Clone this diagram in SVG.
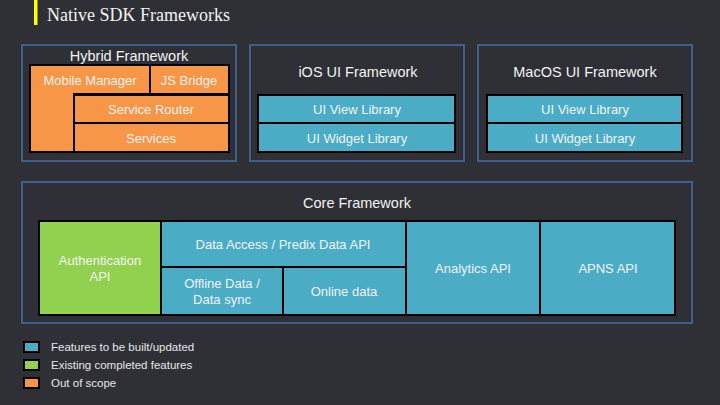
<svg xmlns="http://www.w3.org/2000/svg" width="720" height="405" viewBox="0 0 720 405">
<style>
.bg{fill:#2f3035}
.frame{fill:none;stroke:#3e5f8c;stroke-width:2}
.o{fill:#f79646;stroke:#000;stroke-width:2}
.b{fill:#4bacc6;stroke:#000;stroke-width:2}
.g{fill:#92d050;stroke:#000;stroke-width:2}
text{font-family:"Liberation Sans",Arial,sans-serif;fill:#f2f2f2;text-anchor:middle}
.t{font-size:14.5px}
.n{font-size:13px}
.l{font-size:11.5px;text-anchor:start;fill:#e6e6e6}
</style>
<rect class="bg" x="0" y="0" width="720" height="405"/>
<rect x="34" y="0" width="3.5" height="25" fill="#ffff00"/>
<text x="47" y="21" style="font-family:'Liberation Serif','Times New Roman',serif;font-size:18px;text-anchor:start;fill:#f2f2f2">Native SDK Frameworks</text>

<g id="hybrid-framework">
<rect class="frame" x="22" y="45" width="214" height="116"/>
<text class="t" x="129" y="61">Hybrid Framework</text>
</g>
<g id="mobile-manager">
<path class="o" d="M30,65 H150 V94 H74 V152 H30 Z"/>
<text class="n" x="90" y="85">Mobile Manager</text>
</g>
<g id="js-bridge">
<rect class="o" x="150" y="65" width="79" height="29"/>
<text class="n" x="189" y="85">JS Bridge</text>
</g>
<g id="service-router">
<rect class="o" x="74" y="95" width="155" height="28"/>
<text class="n" x="151" y="114">Service Router</text>
</g>
<g id="services">
<rect class="o" x="74" y="123" width="155" height="29"/>
<text class="n" x="151" y="143">Services</text>
</g>

<g id="ios-ui-framework">
<rect class="frame" x="250" y="45" width="214" height="116"/>
<text class="t" x="358" y="77">iOS UI Framework</text>
</g>
<g id="ios-ui-view-library">
<rect class="b" x="258" y="95" width="197" height="28"/>
<text class="n" x="357" y="114">UI View Library</text>
</g>
<g id="ios-ui-widget-library">
<rect class="b" x="258" y="123" width="197" height="29"/>
<text class="n" x="357" y="143">UI Widget Library</text>
</g>

<g id="macos-ui-framework">
<rect class="frame" x="478" y="45" width="214" height="116"/>
<text class="t" x="585" y="77">MacOS UI Framework</text>
</g>
<g id="macos-ui-view-library">
<rect class="b" x="487" y="95" width="195" height="28"/>
<text class="n" x="585" y="114">UI View Library</text>
</g>
<g id="macos-ui-widget-library">
<rect class="b" x="487" y="123" width="195" height="29"/>
<text class="n" x="585" y="143">UI Widget Library</text>
</g>

<g id="core-framework">
<rect class="frame" x="22" y="182" width="670" height="141"/>
<text class="t" x="357" y="208">Core Framework</text>
</g>
<g id="authentication-api">
<rect class="g" x="39" y="221" width="122" height="94"/>
<text class="n" x="100" y="265">Authentication</text>
<text class="n" x="100" y="281">API</text>
</g>
<g id="data-access">
<rect class="b" x="161" y="221" width="245" height="46"/>
<text class="n" x="283" y="249">Data Access / Predix Data API</text>
</g>
<g id="offline-data">
<rect class="b" x="161" y="267" width="122" height="48"/>
<text class="n" x="222" y="288">Offline Data /</text>
<text class="n" x="222" y="304">Data sync</text>
</g>
<g id="online-data">
<rect class="b" x="283" y="267" width="123" height="48"/>
<text class="n" x="344" y="296">Online data</text>
</g>
<g id="analytics-api">
<rect class="b" x="406" y="221" width="134" height="94"/>
<text class="n" x="473" y="273">Analytics API</text>
</g>
<g id="apns-api">
<rect class="b" x="540" y="221" width="135" height="94"/>
<text class="n" x="608" y="273">APNS API</text>
</g>

<g id="connectors"></g>

<g id="legend">
<rect class="b" x="24" y="342" width="15" height="10"/>
<text class="l" x="51" y="351">Features to be built/updated</text>
<rect class="g" x="24" y="360" width="15" height="10"/>
<text class="l" x="51" y="369">Existing completed features</text>
<rect class="o" x="24" y="378" width="15" height="10"/>
<text class="l" x="51" y="387">Out of scope</text>
</g>
</svg>
